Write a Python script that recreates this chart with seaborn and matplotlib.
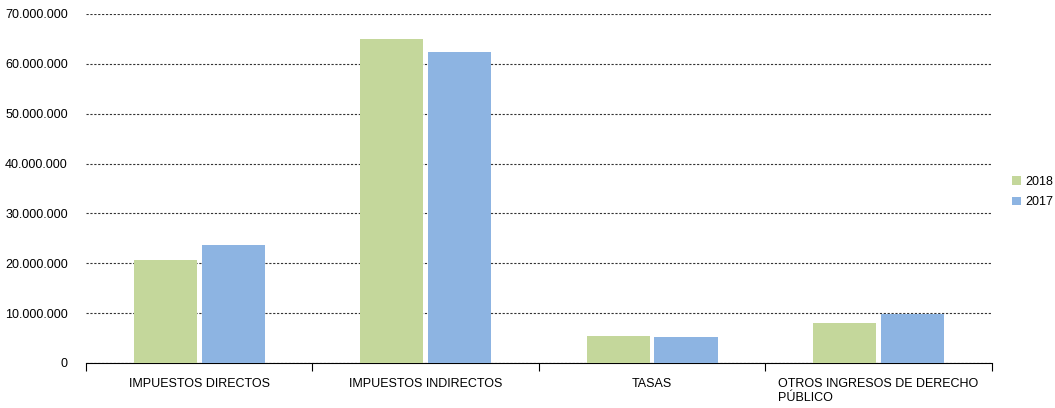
import pandas as pd
import seaborn as sns
import matplotlib.pyplot as plt
from matplotlib.ticker import FuncFormatter

categories = ['IMPUESTOS DIRECTOS', 'IMPUESTOS INDIRECTOS', 'TASAS',
              'OTROS INGRESOS DE DERECHO\nPÚBLICO']
years = ['2018', '2017']
values_2018 = [20600000, 64900000, 5400000, 8000000]
values_2017 = [23600000, 62300000, 5200000, 9800000]

df = pd.DataFrame({
    'categoria': categories * 2,
    'year': [years[0]] * 4 + [years[1]] * 4,
    'valor': values_2018 + values_2017,
})

sns.set_style('white')
plt.rcParams['font.family'] = ['Liberation Sans', 'DejaVu Sans']
plt.rcParams['text.color'] = 'black'
plt.rcParams['xtick.labelcolor'] = 'black'
plt.rcParams['ytick.labelcolor'] = 'black'

fig = plt.figure(figsize=(10.55, 4.08), dpi=100)
ax = fig.add_axes([0.0815, 0.1103, 0.8585, 0.8554])

sns.barplot(data=df, x='categoria', y='valor', hue='year',
            palette=['#C4D79B', '#8DB4E2'], width=0.6, gap=0.07,
            saturation=1, linewidth=0, ax=ax, zorder=3)

ax.set_ylim(0, 70000000)
ax.set_xlim(-0.5, 3.5)
ax.set_yticks(range(0, 70000001, 10000000))
ax.yaxis.set_major_formatter(FuncFormatter(lambda v, p: f'{int(v):,}'.replace(',', '.')))
ax.yaxis.grid(True, linestyle=(0, (2, 1.5)), color='#333333', linewidth=0.8, zorder=0)
ax.set_axisbelow(True)
ax.tick_params(axis='y', length=0, labelsize=9, pad=13, labelcolor='black')
ax.tick_params(axis='x', which='major', length=0, labelsize=9, pad=11, labelcolor='black')
ax.set_xticks([-0.5, 0.5, 1.5, 2.5, 3.5], minor=True)
ax.tick_params(axis='x', which='minor', bottom=True, length=6, width=0.8,
               color='black', direction='out')
for lbl in ax.get_xticklabels():
    lbl.set_multialignment('left')
    lbl.set_verticalalignment('top')
ax.set_xlabel('')
ax.set_ylabel('')
for s in ['top', 'right', 'left']:
    ax.spines[s].set_visible(False)
ax.spines['bottom'].set_color('black')
ax.spines['bottom'].set_linewidth(0.8)

ax.legend(loc='center left', bbox_to_anchor=(1.01, 0.49), frameon=False,
          handlelength=0.7, handleheight=0.7, handletextpad=0.4,
          labelspacing=0.7, fontsize=9, labelcolor='black')

fig.savefig('out.png', dpi=100)
